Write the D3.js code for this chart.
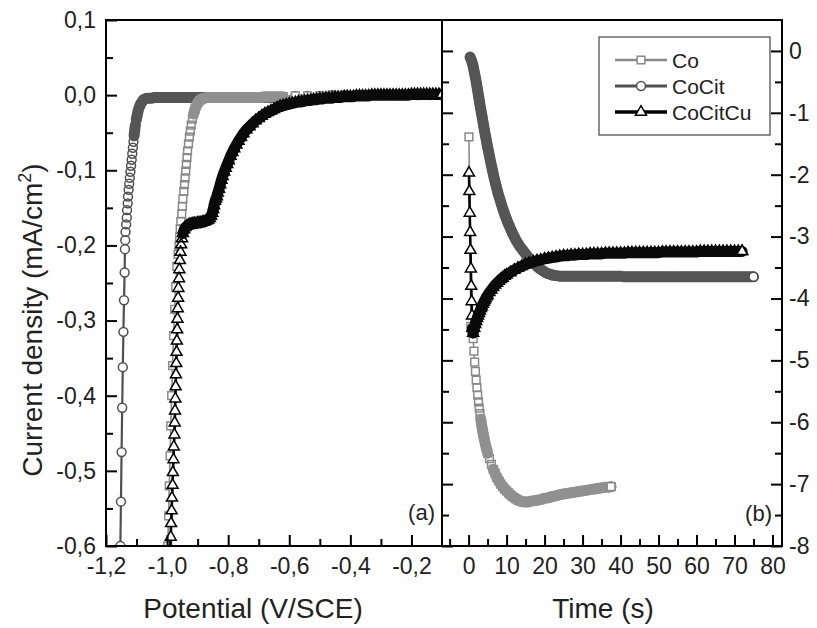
<!DOCTYPE html>
<html>
<head>
<meta charset="utf-8">
<script src="https://cdn.jsdelivr.net/npm/d3@7"></script>
<style>
body { margin: 0; background: #fff; }
svg { display: block; font-family: "Liberation Sans", Arial, sans-serif; }
</style>
</head>
<body>
<svg id="chart" width="817" height="628"></svg>
<script>
// ---- data ----
const seriesNames = ['Co', 'CoCit', 'CoCitCu'];

// (a) linear sweep: [potential V/SCE, current density mA/cm2]
const coLSV = [
  [-0.998,-0.600],[-0.995,-0.560],[-0.993,-0.520],[-0.990,-0.480],[-0.988,-0.440],[-0.985,-0.400],[-0.982,-0.360],[-0.979,-0.320],[-0.975,-0.285],[-0.972,-0.255],[-0.968,-0.228],[-0.964,-0.212],
  [-0.961,-0.200],[-0.959,-0.189],[-0.957,-0.178],[-0.955,-0.168],[-0.952,-0.158],[-0.950,-0.148],[-0.948,-0.138],[-0.945,-0.128],[-0.943,-0.119],[-0.941,-0.110],[-0.939,-0.101],[-0.937,-0.092],[-0.935,-0.083],[-0.933,-0.074],[-0.930,-0.065],[-0.927,-0.056],[-0.924,-0.048],[-0.921,-0.040],[-0.917,-0.032],[-0.913,-0.025],[-0.909,-0.019],[-0.904,-0.014],[-0.899,-0.010],[-0.893,-0.007],[-0.886,-0.005],[-0.878,-0.004],
  [-0.870,-0.003],[-0.860,-0.003],[-0.850,-0.003],[-0.840,-0.003],[-0.830,-0.003],[-0.820,-0.003],[-0.810,-0.003],[-0.800,-0.003],[-0.790,-0.003],[-0.780,-0.003],[-0.770,-0.003],[-0.760,-0.003],[-0.750,-0.003],[-0.740,-0.003],[-0.730,-0.003],[-0.720,-0.003],[-0.710,-0.003],[-0.700,-0.003],[-0.690,-0.003],[-0.680,-0.002],[-0.670,-0.002],[-0.660,-0.002],[-0.650,-0.002],[-0.640,-0.002],[-0.630,-0.002],[-0.620,-0.002],
  [-0.580,-0.001],[-0.540,-0.001],[-0.500,-0.001],[-0.460,0],[-0.420,0],[-0.380,0],[-0.340,0],[-0.300,0],[-0.260,0],[-0.220,0],[-0.180,0],[-0.140,0],[-0.100,0]
];
const cocitLSV = [
  [-1.153,-0.600],[-1.151,-0.541],[-1.149,-0.475],[-1.147,-0.416],[-1.145,-0.362],[-1.143,-0.315],[-1.141,-0.273],[-1.139,-0.236],[-1.138,-0.205],
  [-1.137,-0.193],[-1.136,-0.182],[-1.134,-0.172],[-1.132,-0.163],[-1.131,-0.153],[-1.129,-0.144],[-1.128,-0.135],[-1.126,-0.126],[-1.124,-0.118],[-1.122,-0.110],[-1.120,-0.102],[-1.118,-0.094],[-1.116,-0.086],[-1.114,-0.078],[-1.112,-0.070],[-1.110,-0.062],[-1.108,-0.054],[-1.106,-0.047],[-1.104,-0.040],[-1.101,-0.033],[-1.098,-0.027],[-1.095,-0.021],[-1.091,-0.016],[-1.087,-0.012],[-1.082,-0.009],[-1.077,-0.006],[-1.071,-0.005],[-1.065,-0.004],
  [-1.060,-0.004],[-1.050,-0.004],[-1.040,-0.003],[-1.030,-0.003],[-1.020,-0.003],[-1.010,-0.003],[-1.000,-0.003],[-0.990,-0.003],[-0.980,-0.003],[-0.970,-0.003],[-0.960,-0.003],[-0.950,-0.003],[-0.940,-0.003],[-0.930,-0.003],[-0.920,-0.003],[-0.910,-0.003],[-0.900,-0.003],[-0.890,-0.003],[-0.880,-0.003],[-0.870,-0.003],[-0.860,-0.003],[-0.850,-0.003],[-0.840,-0.003],[-0.830,-0.003],[-0.820,-0.003],[-0.810,-0.003],[-0.800,-0.003],[-0.790,-0.003],[-0.780,-0.003],[-0.770,-0.003],[-0.760,-0.003],[-0.750,-0.003],[-0.740,-0.003],[-0.730,-0.003],[-0.720,-0.003],[-0.710,-0.003],[-0.700,-0.003],[-0.690,-0.003],[-0.680,-0.003],[-0.670,-0.003],[-0.660,-0.003],[-0.650,-0.003],[-0.640,-0.003],[-0.630,-0.003],[-0.620,-0.003],
  [-0.580,-0.001],[-0.540,-0.001],[-0.500,-0.001],[-0.460,0],[-0.420,0],[-0.380,0],[-0.340,0],[-0.300,0],[-0.260,0],[-0.220,0],[-0.180,0],[-0.140,0],[-0.100,0]
];
const cocitcuLSV = [
  [-0.990,-0.605],[-0.988,-0.588],[-0.987,-0.570],[-0.985,-0.553],[-0.984,-0.536],[-0.982,-0.519],[-0.981,-0.502],[-0.979,-0.485],[-0.978,-0.468],[-0.976,-0.452],[-0.975,-0.436],[-0.974,-0.420],[-0.973,-0.404],[-0.972,-0.388],[-0.971,-0.372],[-0.970,-0.357],[-0.969,-0.342],[-0.968,-0.327],[-0.967,-0.312],[-0.966,-0.298],[-0.965,-0.284],[-0.964,-0.270],[-0.963,-0.257],[-0.961,-0.244],[-0.960,-0.232],[-0.958,-0.220],[-0.956,-0.209],[-0.954,-0.199],[-0.951,-0.191],[-0.948,-0.184],[-0.944,-0.179],[-0.940,-0.176],[-0.935,-0.174],
  [-0.930,-0.173],[-0.925,-0.172],[-0.920,-0.172],[-0.915,-0.171],[-0.910,-0.171],[-0.905,-0.171],[-0.900,-0.170],[-0.895,-0.170],[-0.890,-0.170],[-0.885,-0.169],[-0.880,-0.169],[-0.875,-0.168],[-0.870,-0.167],[-0.865,-0.166],[-0.860,-0.164],[-0.856,-0.161],[-0.852,-0.157],[-0.849,-0.152],[-0.846,-0.147],[-0.843,-0.141],[-0.840,-0.138],[-0.837,-0.135],[-0.834,-0.130],[-0.830,-0.125],[-0.826,-0.119],[-0.822,-0.113],[-0.818,-0.108],[-0.813,-0.102],[-0.808,-0.097],[-0.803,-0.092],[-0.798,-0.087],[-0.792,-0.081],[-0.786,-0.076],[-0.780,-0.071],[-0.773,-0.066],[-0.766,-0.061],[-0.758,-0.056],[-0.750,-0.051],[-0.740,-0.046],[-0.730,-0.042],[-0.720,-0.038],[-0.710,-0.034],[-0.700,-0.031],[-0.690,-0.028],[-0.680,-0.025],[-0.670,-0.023],[-0.660,-0.021],[-0.650,-0.019],[-0.640,-0.017],[-0.630,-0.015],[-0.620,-0.014],[-0.610,-0.013],[-0.600,-0.012],[-0.590,-0.011],[-0.580,-0.010],[-0.570,-0.009],[-0.560,-0.009],[-0.550,-0.008],[-0.540,-0.007],[-0.530,-0.007],[-0.520,-0.006],[-0.510,-0.006],[-0.500,-0.005],[-0.490,-0.005],[-0.480,-0.004],[-0.470,-0.004],[-0.460,-0.004],[-0.450,-0.003],[-0.440,-0.003],[-0.430,-0.003],[-0.420,-0.002],[-0.410,-0.002],[-0.400,-0.002],[-0.390,-0.002],[-0.380,-0.001],[-0.370,-0.001],[-0.360,-0.001],[-0.350,-0.001],[-0.340,-0.001],[-0.330,0],[-0.320,0],[-0.310,0],[-0.300,0],[-0.290,0],[-0.280,0],[-0.270,0],[-0.260,0],[-0.250,0],[-0.240,0],[-0.230,0],[-0.220,0],[-0.210,0],[-0.200,0.001],[-0.190,0.001],[-0.180,0.001],[-0.170,0.001],[-0.160,0.001],[-0.150,0.001],[-0.140,0.001],[-0.130,0.001],[-0.120,0.001],[-0.110,0.001],[-0.100,0.001]
];

// (b) chronoamperometry: [time s, current density mA/cm2]
const coCA = [
  [0.1,-1.39],[0.6,-4.45],[0.9,-4.55],[1.2,-4.65],[1.4,-4.85],[1.6,-5.03],[1.8,-5.18],[2.0,-5.32],[2.2,-5.44],[2.4,-5.56],[2.6,-5.67],[2.8,-5.77],[3.0,-5.86],[3.2,-5.95],[3.4,-6.03],[3.6,-6.10],[3.8,-6.17],[4.0,-6.24],[4.25,-6.31],[4.5,-6.38],[4.75,-6.44],[5.0,-6.50],[5.5,-6.59],[6.0,-6.68],[6.5,-6.76],[7.0,-6.83],[7.5,-6.90],[8.0,-6.95],[8.5,-7.00],[9.0,-7.04],[9.5,-7.08],[10,-7.11],[10.5,-7.14],[11,-7.17],[11.5,-7.20],[12,-7.22],[12.5,-7.24],[13,-7.26],[13.5,-7.27],[14,-7.28],[14.5,-7.29],[15,-7.29],[15.5,-7.29],[16,-7.28],[17,-7.27],[18,-7.26],[19,-7.25],[20,-7.23],[21,-7.22],[22,-7.20],[23,-7.19],[24,-7.17],[25,-7.16],[26,-7.15],[27,-7.14],[28,-7.13],[29,-7.12],[30,-7.11],[31,-7.10],[32,-7.09],[33,-7.08],[34,-7.07],[35,-7.06],[36,-7.05],[37,-7.05],[37.5,-7.04]
];
const cocitCA = [
  [0.4,-0.10],[0.6,-0.13],[0.8,-0.16],[1.0,-0.20],[1.2,-0.25],[1.4,-0.31],[1.6,-0.37],[1.8,-0.43],[2.0,-0.50],[2.2,-0.57],[2.4,-0.645],[2.6,-0.72],[2.8,-0.80],[3.0,-0.87],[3.2,-0.94],[3.4,-1.01],[3.6,-1.08],[3.8,-1.15],[4.0,-1.22],[4.2,-1.29],[4.4,-1.36],[4.6,-1.42],[4.8,-1.49],[5.0,-1.55],
  [5.25,-1.625],[5.5,-1.70],[5.75,-1.78],[6.0,-1.85],[6.25,-1.92],[6.5,-1.99],[6.75,-2.06],[7.0,-2.12],[7.25,-2.18],[7.5,-2.24],[7.75,-2.30],[8.0,-2.35],[8.25,-2.40],[8.5,-2.45],[8.75,-2.50],[9.0,-2.55],[9.25,-2.59],[9.5,-2.64],[9.75,-2.68],[10,-2.72],[10.25,-2.76],[10.5,-2.80],[10.75,-2.83],[11,-2.87],[11.25,-2.90],[11.5,-2.94],[11.75,-2.97],[12,-3.00],
  [12.5,-3.06],[13,-3.11],[13.5,-3.16],[14,-3.20],[14.5,-3.24],[15,-3.28],[15.5,-3.32],[16,-3.35],[16.5,-3.39],[17,-3.42],[17.5,-3.45],[18,-3.48],[18.5,-3.51],[19,-3.53],[19.5,-3.55],[20,-3.57],[20.5,-3.59],[21,-3.60],[21.5,-3.61],[22,-3.62],[23,-3.63],[24,-3.64],
  [25,-3.64],[26,-3.64],[27,-3.64],[28,-3.64],[29,-3.64],[30,-3.64],[31,-3.64],[32,-3.64],[33,-3.64],[34,-3.64],[35,-3.64],[36,-3.64],[37,-3.64],[38,-3.64],[39,-3.64],[40,-3.64],[41,-3.65],[42,-3.65],[43,-3.65],[44,-3.65],[45,-3.65],[46,-3.65],[47,-3.65],[48,-3.65],[49,-3.65],[50,-3.65],[51,-3.65],[52,-3.65],[53,-3.65],[54,-3.65],[55,-3.65],[56,-3.65],[57,-3.65],[58,-3.65],[59,-3.65],[60,-3.65],[61,-3.65],[62,-3.65],[63,-3.65],[64,-3.65],[65,-3.65],[66,-3.65],[67,-3.65],[68,-3.65],[69,-3.65],[70,-3.65],[71,-3.65],[72,-3.65],[73,-3.65],[74,-3.65],[75,-3.65]
];
const cocitcuCA = [
  [0.1,-1.97],[0.2,-2.27],[0.3,-2.62],[0.4,-2.93],[0.5,-3.22],[0.6,-3.52],[0.7,-3.80],[0.8,-4.05],[0.9,-4.28],[1.0,-4.48],[1.2,-4.56],[1.5,-4.48],[1.75,-4.42],[2.0,-4.37],[2.25,-4.32],[2.5,-4.28],[2.75,-4.24],[3.0,-4.20],[3.25,-4.16],[3.5,-4.13],[3.75,-4.09],[4.0,-4.06],[4.25,-4.03],[4.5,-4.00],[4.75,-3.97],[5.0,-3.95],[5.5,-3.90],[6.0,-3.86],[6.5,-3.82],[7.0,-3.78],[7.5,-3.75],[8.0,-3.72],[8.5,-3.69],[9.0,-3.67],[9.5,-3.64],[10,-3.62],[11,-3.58],[12,-3.54],[13,-3.51],[14,-3.48],[15,-3.45],[16,-3.43],[17,-3.41],[18,-3.39],[19,-3.38],[20,-3.36],[21,-3.35],[22,-3.34],[23,-3.33],[24,-3.32],[25,-3.31],[26,-3.31],[27,-3.30],[28,-3.30],[29,-3.29],[30,-3.29],
  [31,-3.29],[32,-3.28],[33,-3.28],[34,-3.28],[35,-3.28],[36,-3.27],[37,-3.27],[38,-3.27],[39,-3.27],[40,-3.27],[41,-3.27],[42,-3.26],[43,-3.26],[44,-3.26],[45,-3.26],[46,-3.26],[47,-3.26],[48,-3.26],[49,-3.26],[50,-3.26],[51,-3.25],[52,-3.25],[53,-3.25],[54,-3.25],[55,-3.25],[56,-3.25],[57,-3.25],[58,-3.25],[59,-3.25],[60,-3.25],[61,-3.24],[62,-3.24],[63,-3.24],[64,-3.24],[65,-3.24],[66,-3.24],[67,-3.24],[68,-3.24],[69,-3.24],[70,-3.24],[71,-3.24],[72,-3.24]
];

// tick labels
const potentialTicks = [-1.2, -1.0, -0.8, -0.6, -0.4, -0.2];
const currentTicks = [-0.6, -0.5, -0.4, -0.3, -0.2, -0.1, 0.0, 0.1];
const timeTicks = [0, 10, 20, 30, 40, 50, 60, 70, 80];
const currentTicksB = [-8, -7, -6, -5, -4, -3, -2, -1, 0];

// ---- layout ----
const svg = d3.select('#chart');
const plotTop = 20, plotBottom = 546, xLeft = 106, xMid = 442, xRight = 782;
const textColor = '#222';
const tickFont = 23, titleFont = 28;

const xL = d3.scaleLinear().domain([-1.2, -0.1]).range([xLeft, xMid]);
const yL = d3.scaleLinear().domain([-0.6, 0.1]).range([plotBottom, plotTop]);
const xR = d3.scaleLinear().domain([-7, 82.5]).range([xMid, xRight]);
const yR = d3.scaleLinear().domain([-8, 0.5]).range([plotBottom, plotTop]);

const locale = d3.formatLocale({decimal: ',', thousands: '.', grouping: [3], currency: ['', ''], minus: '-'});
const fmt1 = locale.format('.1f');
const fmt0 = locale.format('d');

// minor ticks halfway between majors
const halfway = arr => arr.slice(1).map((v, i) => (v + arr[i]) / 2);

// clip paths
const defs = svg.append('defs');
defs.append('clipPath').attr('id', 'clipA').append('rect')
  .attr('x', xLeft).attr('y', plotTop).attr('width', xMid - xLeft).attr('height', plotBottom - plotTop);
defs.append('clipPath').attr('id', 'clipB').append('rect')
  .attr('x', xMid).attr('y', plotTop).attr('width', xRight - xMid).attr('height', plotBottom - plotTop);

const styles = {
  Co:      {color: '#8a8a8a', band: '#909090', lw: 1.6, symbol: d3.symbolSquare,   size: 60},
  CoCit:   {color: '#505050', band: '#555555', lw: 2.2, symbol: d3.symbolCircle,   size: 62},
  CoCitCu: {color: '#000000', band: '#0a0a0a', lw: 2.6, symbol: d3.symbolTriangle, size: 52}
};

const BAND_GAP = 5.3;   // px: closer points than this merge into a solid band
const BAND_WIDTH = 11;

function drawMarker(g, p, sym, st) {
  g.append('path').attr('transform', 'translate(' + p[0] + ',' + p[1] + ')')
    .attr('d', sym).attr('fill', '#fff').attr('stroke', st.color).attr('stroke-width', 1.5);
}

function drawSeries(g, data, x, y, st) {
  const pts = data.map(d => [x(d[0]), y(d[1])]);
  const sym = d3.symbol(st.symbol, st.size);

  g.append('path')
    .datum(pts)
    .attr('d', d3.line())
    .attr('fill', 'none')
    .attr('stroke', st.color)
    .attr('stroke-width', st.lw);

  // white bodies first, outlines after
  g.selectAll(null).data(pts).enter().append('path')
    .attr('transform', p => 'translate(' + p[0] + ',' + p[1] + ')')
    .attr('d', sym)
    .attr('fill', '#fff');
  g.selectAll(null).data(pts).enter().append('path')
    .attr('transform', p => 'translate(' + p[0] + ',' + p[1] + ')')
    .attr('d', sym)
    .attr('fill', 'none')
    .attr('stroke', st.color)
    .attr('stroke-width', 1.5);

  // runs of tightly packed points read as a solid band
  const runs = [];
  let cur = [pts[0]];
  for (let i = 1; i < pts.length; i++) {
    const dx = pts[i][0] - pts[i - 1][0], dy = pts[i][1] - pts[i - 1][1];
    if (Math.hypot(dx, dy) < BAND_GAP) cur.push(pts[i]);
    else { if (cur.length > 2) runs.push(cur); cur = [pts[i]]; }
  }
  if (cur.length > 2) runs.push(cur);
  g.selectAll(null).data(runs).enter().append('path')
    .attr('d', d3.line())
    .attr('fill', 'none')
    .attr('stroke', st.band)
    .attr('stroke-width', BAND_WIDTH)
    .attr('stroke-linecap', 'round')
    .attr('stroke-linejoin', 'round');

  // last point stays visible as an open marker
  drawMarker(g, pts[pts.length - 1], sym, st);
}

// panel (a): CoCit, Co, CoCitCu (CoCitCu on top)
const gA = svg.append('g').attr('clip-path', 'url(#clipA)');
drawSeries(gA, cocitLSV, xL, yL, styles.CoCit);
drawSeries(gA, coLSV, xL, yL, styles.Co);
drawSeries(gA, cocitcuLSV, xL, yL, styles.CoCitCu);

// panel (b)
const gB = svg.append('g').attr('clip-path', 'url(#clipB)');
drawSeries(gB, coCA, xR, yR, styles.Co);
drawSeries(gB, cocitCA, xR, yR, styles.CoCit);
drawSeries(gB, cocitcuCA, xR, yR, styles.CoCitCu);

// ---- axes ----
function styleAxis(g) {
  g.select('.domain').remove();
  g.selectAll('line').attr('stroke', '#000').attr('stroke-width', 2);
  g.selectAll('text').attr('fill', textColor).style('font-size', tickFont + 'px');
}

// left y
svg.append('g').attr('transform', 'translate(' + xLeft + ',0)')
  .call(d3.axisLeft(yL).tickValues(currentTicks).tickFormat(fmt1).tickSize(-11).tickSizeOuter(0).tickPadding(10))
  .call(styleAxis);
svg.append('g').attr('transform', 'translate(' + xLeft + ',0)')
  .call(d3.axisLeft(yL).tickValues(halfway(currentTicks)).tickFormat('').tickSize(-7).tickSizeOuter(0))
  .call(styleAxis);

// bottom (a)
svg.append('g').attr('transform', 'translate(0,' + plotBottom + ')')
  .call(d3.axisBottom(xL).tickValues(potentialTicks).tickFormat(fmt1).tickSize(-11).tickSizeOuter(0).tickPadding(12))
  .call(styleAxis);
svg.append('g').attr('transform', 'translate(0,' + plotBottom + ')')
  .call(d3.axisBottom(xL).tickValues(halfway(potentialTicks)).tickFormat('').tickSize(-7).tickSizeOuter(0))
  .call(styleAxis);

// bottom (b)
svg.append('g').attr('transform', 'translate(0,' + plotBottom + ')')
  .call(d3.axisBottom(xR).tickValues(timeTicks).tickFormat(fmt0).tickSize(-11).tickSizeOuter(0).tickPadding(12))
  .call(styleAxis);
svg.append('g').attr('transform', 'translate(0,' + plotBottom + ')')
  .call(d3.axisBottom(xR).tickValues([-5].concat(halfway(timeTicks))).tickFormat('').tickSize(-7).tickSizeOuter(0))
  .call(styleAxis);

// right y (b)
svg.append('g').attr('transform', 'translate(' + xRight + ',0)')
  .call(d3.axisRight(yR).tickValues(currentTicksB).tickFormat(fmt0).tickSize(-11).tickSizeOuter(0).tickPadding(7))
  .call(styleAxis);
svg.append('g').attr('transform', 'translate(' + xRight + ',0)')
  .call(d3.axisRight(yR).tickValues(halfway(currentTicksB)).tickFormat('').tickSize(-7).tickSizeOuter(0))
  .call(styleAxis);

// mirrored ticks of (b) on the shared middle line
svg.append('g').attr('transform', 'translate(' + xMid + ',0)')
  .call(d3.axisLeft(yR).tickValues(currentTicksB).tickFormat('').tickSize(-11).tickSizeOuter(0))
  .call(styleAxis);
svg.append('g').attr('transform', 'translate(' + xMid + ',0)')
  .call(d3.axisLeft(yR).tickValues(halfway(currentTicksB)).tickFormat('').tickSize(-7).tickSizeOuter(0))
  .call(styleAxis);

// frame
svg.append('rect')
  .attr('x', xLeft).attr('y', plotTop).attr('width', xRight - xLeft).attr('height', plotBottom - plotTop)
  .attr('fill', 'none').attr('stroke', '#000').attr('stroke-width', 2);
svg.append('line')
  .attr('x1', xMid).attr('x2', xMid).attr('y1', plotTop).attr('y2', plotBottom)
  .attr('stroke', '#000').attr('stroke-width', 2);

// ---- titles ----
const yTitle = svg.append('text')
  .attr('transform', 'translate(42,320) rotate(-90)')
  .attr('text-anchor', 'middle')
  .attr('fill', textColor)
  .style('font-size', titleFont + 'px');
yTitle.append('tspan').text('Current density (mA/cm');
yTitle.append('tspan').attr('dy', -11).style('font-size', '18px').text('2');
yTitle.append('tspan').attr('dy', 11).text(')');

svg.append('text').attr('x', 253).attr('y', 618).attr('text-anchor', 'middle')
  .attr('fill', textColor).style('font-size', titleFont + 'px').text('Potential (V/SCE)');
svg.append('text').attr('x', 603).attr('y', 618).attr('text-anchor', 'middle')
  .attr('fill', textColor).style('font-size', titleFont + 'px').text('Time (s)');

svg.append('text').attr('x', 435).attr('y', 512).attr('dy', '0.35em').attr('text-anchor', 'end')
  .attr('fill', textColor).style('font-size', '22px').text('(a)');
svg.append('text').attr('x', 772).attr('y', 513).attr('dy', '0.35em').attr('text-anchor', 'end')
  .attr('fill', textColor).style('font-size', '22px').text('(b)');

// ---- legend ----
const legend = svg.append('g');
legend.append('rect')
  .attr('x', 599).attr('y', 37).attr('width', 171).attr('height', 98)
  .attr('fill', '#fff').attr('stroke', '#444').attr('stroke-width', 1.2);
seriesNames.forEach((name, i) => {
  const st = styles[name];
  const ly = 60 + i * 26;
  legend.append('line')
    .attr('x1', 615).attr('x2', 667).attr('y1', ly).attr('y2', ly)
    .attr('stroke', st.color).attr('stroke-width', st.lw + 0.8);
  drawMarker(legend, [641, ly], d3.symbol(st.symbol, st.size), st);
  legend.append('text')
    .attr('x', 672).attr('y', ly).attr('dy', '0.36em')
    .attr('fill', textColor).style('font-size', '21px')
    .text(name);
});
</script>
</body>
</html>
